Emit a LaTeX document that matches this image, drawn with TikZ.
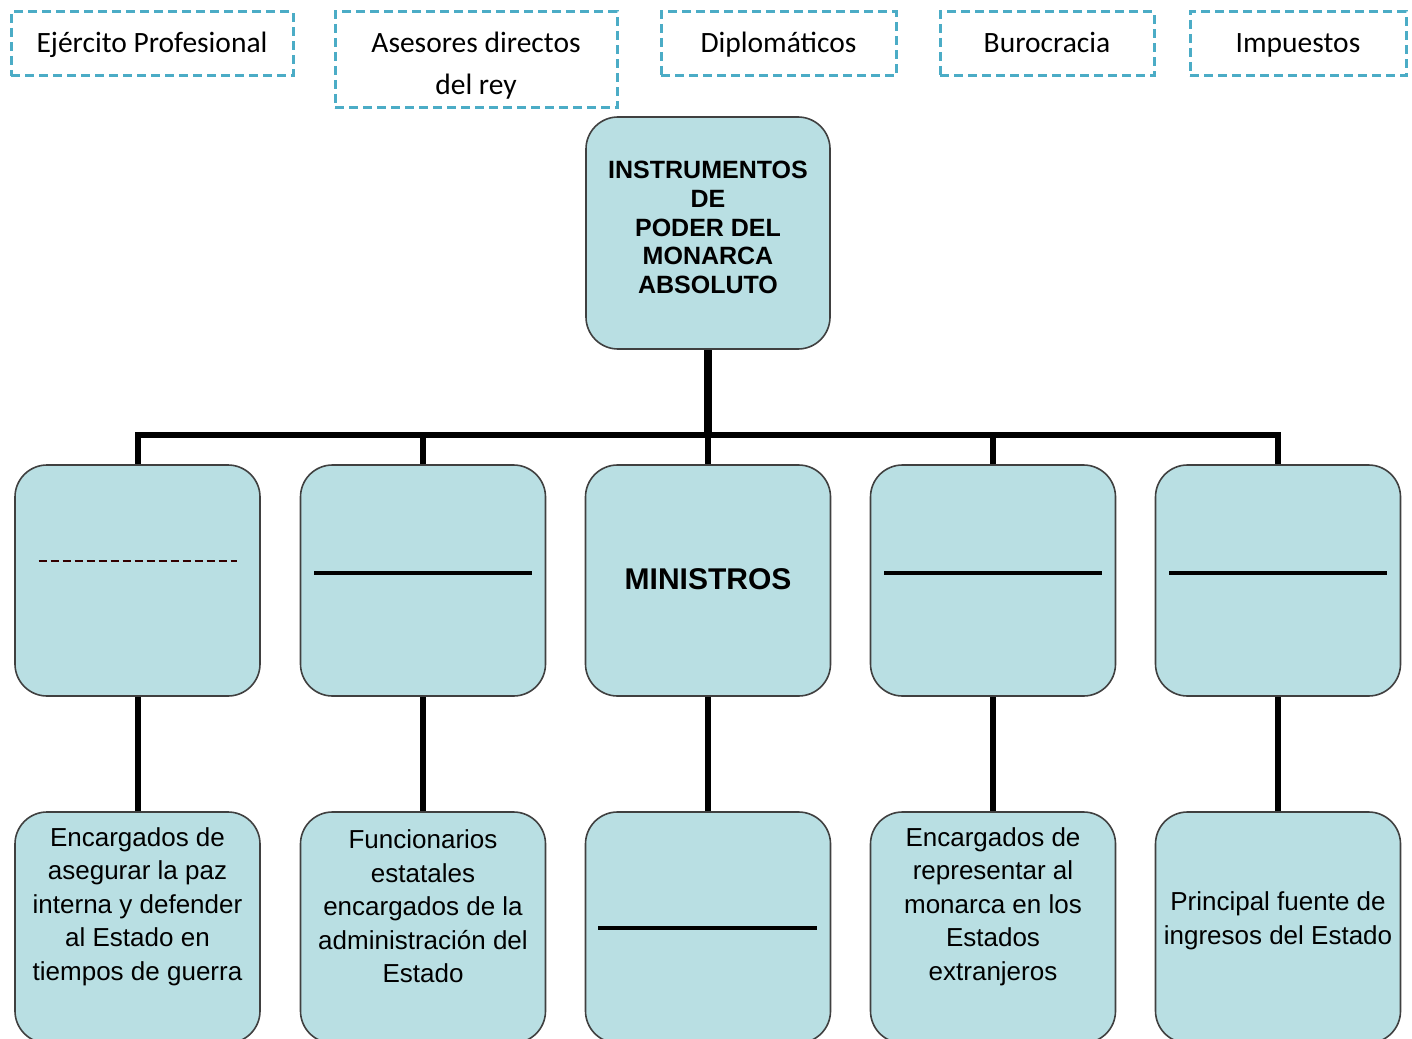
\documentclass[tikz,border=0pt]{standalone}
\usepackage{fontspec}
\setmainfont{Liberation Sans}
\newfontfamily\calfont{Carlito}
\definecolor{dashcol}{HTML}{4BACC6}
\definecolor{boxfill}{HTML}{B9DFE3}
\definecolor{bordercol}{HTML}{404040}
\begin{document}
\begin{tikzpicture}[x=1pt,y=-1pt,
  topbox/.style={draw=dashcol, line width=3pt, dash pattern=on 9pt off 5pt, inner sep=0pt},
  toptxt/.style={inner sep=0pt, anchor=base, font=\calfont\fontsize{29.5}{42}\selectfont},
  box/.style={draw=bordercol, line width=1.6pt, fill=boxfill, rounded corners=32pt,
    minimum width=245pt, minimum height=231pt, inner sep=0pt},
  conn/.style={line width=6pt},
  txt/.style={align=center, inner sep=0pt, font=\fontsize{26}{33.5}\selectfont},
  blank/.style={line width=4pt}
]
\useasboundingbox (0,0) rectangle (1412,1038);
\clip (0,0) rectangle (1412,1038);

% top dashed boxes
\node[topbox, minimum width=282pt, minimum height=64pt] (t1) at (152,44) {};
\node[toptxt] (t1x) at (152,52.5) {Ejército Profesional};
\node[topbox, minimum width=282pt, minimum height=96pt] (t2) at (476,60) {};
\node[toptxt] (t2x) at (476,52.5) {Asesores directos};
\node[toptxt] (t2y) at (476,94.5) {del rey};
\node[topbox, minimum width=235pt, minimum height=64pt] (t3) at (778.5,44) {};
\node[toptxt] (t3x) at (778.5,52.5) {Diplomáticos};
\node[topbox, minimum width=214pt, minimum height=64pt] (t4) at (1047,44) {};
\node[toptxt] (t4x) at (1047,52.5) {Burocracia};
\node[topbox, minimum width=216pt, minimum height=64pt] (t5) at (1298,44) {};
\node[toptxt] (t5x) at (1298,52.5) {Impuestos};

\coordinate (bus) at (708,435);

% invisible placeholders for connector ends
\path node[box, minimum height=232pt, minimum width=244pt, draw=none, fill=none] (top) at (708,233) {};
\foreach \i/\x in {1/137.5,2/423,3/708,4/993,5/1278}{
  \path node[box, draw=none, fill=none] (b\i) at (\x,580.5) {};
  \path node[box, draw=none, fill=none] (c\i) at (\x,927.5) {};
}
\draw[line width=8pt] (top.south) -- (bus);
\draw[conn] (b1.north) |- (b5.north |- bus) -- (b5.north);
\foreach \i in {2,3,4}{ \draw[conn] (b\i.north) -- (b\i.north |- bus); }
\foreach \i in {1,...,5}{ \draw[conn] (b\i.south) -- (c\i.north); }

% boxes
\node[box, minimum height=232pt, minimum width=244pt] (top) at (708,233) {};
\node[inner sep=0pt, align=center, font=\bfseries\fontsize{25}{28.8}\selectfont] (topx) at (708,227.5)
  {INSTRUMENTOS\\DE\\PODER DEL\\MONARCA\\ABSOLUTO};
\foreach \i/\x in {1/137.5,2/423,3/708,4/993,5/1278}{
  \node[box] (b\i) at (\x,580.5) {};
  \node[box] (c\i) at (\x,927.5) {};
}

% second row contents
\draw[line width=1.6pt, dash pattern=on 8pt off 4pt, draw=black!80!red] ([xshift=-99pt,yshift=19.5pt]b1.center) -- ([xshift=99pt,yshift=19.5pt]b1.center);
\draw[blank] ([xshift=-109pt,yshift=7.5pt]b2.center) -- ([xshift=109pt,yshift=7.5pt]b2.center);
\node[inner sep=0pt, font=\bfseries\fontsize{30}{34}\selectfont] (min) at (708,579) {MINISTROS};
\draw[blank] ([xshift=-109pt,yshift=7.5pt]b4.center) -- ([xshift=109pt,yshift=7.5pt]b4.center);
\draw[blank] ([xshift=-109pt,yshift=7.5pt]b5.center) -- ([xshift=109pt,yshift=7.5pt]b5.center);

% third row contents
\node[txt] (c1x) at (137.5,906.5) {Encargados de\\asegurar la paz\\interna y defender\\al Estado en\\tiempos de guerra};
\node[txt] (c2x) at (423,906.5) {Funcionarios\\estatales\\encargados de la\\administración del\\Estado};
\draw[blank] ([xshift=-110pt]c3.center) -- ([xshift=109pt]c3.center);
\node[txt] (c4x) at (993,906.5) {Encargados de\\representar al\\monarca en los\\Estados\\extranjeros};
\node[txt] (c5x) at (1278,921) {Principal fuente de\\ingresos del Estado};
\end{tikzpicture}
\end{document}
